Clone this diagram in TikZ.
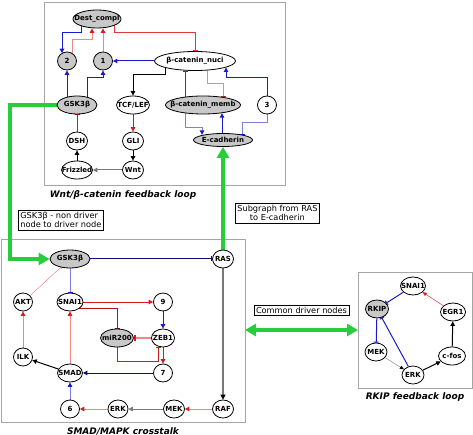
\documentclass[tikz,border=0pt]{standalone}
\usepackage{fontspec}
\setmainfont{DejaVu Sans}
\usepackage{xcolor}
\usetikzlibrary{positioning,shapes.geometric,arrows.meta,backgrounds}

\definecolor{redA}{RGB}{215,25,25}
\definecolor{redL}{RGB}{240,135,135}
\definecolor{bluA}{RGB}{25,25,205}
\definecolor{bluL}{RGB}{125,125,230}
\definecolor{navyA}{RGB}{15,15,120}
\definecolor{greyE}{RGB}{120,120,120}
\definecolor{grnA}{RGB}{40,205,60}
\definecolor{boxgray}{RGB}{165,165,165}
\definecolor{nodegray}{RGB}{200,200,200}

\tikzset{
  nd/.style={ellipse, draw, fill=white, line width=0.8pt, inner xsep=-6pt, inner ysep=0pt,
    minimum height=18pt, minimum width=19pt, font=\bfseries\fontsize{7}{8}\selectfont},
  gnd/.style={nd, fill=nodegray},
  lnk/.style={line width=1pt},
  act/.style={lnk, -{Triangle[length=4.5pt,width=4.5pt]}},
  inh/.style={lnk, -{Bar[width=5pt]}},
  ract/.style={lnk, draw=redL, -{Triangle[length=4.5pt,width=4.5pt,color=redA]}},
  rinh/.style={lnk, draw=redL, -{Bar[width=5pt,color=redA]}},
  bact/.style={lnk, draw=bluL, -{Triangle[length=4.5pt,width=4.5pt,color=bluA]}},
  binh/.style={lnk, draw=bluL, -{Bar[width=5pt,color=bluA]}},
  grn/.style={draw=grnA, line width=4.5pt, -{Triangle[length=11pt,width=12pt]}},
  panel/.style={draw=boxgray, line width=0.8pt},
  loopcap/.style={font=\bfseries\itshape\fontsize{9}{10}\selectfont},
  note/.style={draw, line width=0.7pt, inner sep=2pt, align=left, font=\fontsize{8.2}{9.2}\selectfont}
}

\begin{document}
\begin{tikzpicture}[x=1pt, y=-1pt]
  \useasboundingbox (0,0) rectangle (473,435);

  % Nodes: Wnt/beta-catenin loop
  \node[gnd, minimum width=48pt] (dest) at (97,19) {Dest\_compl};
  \node[gnd] (n2) at (67,61) {2};
  \node[gnd] (n1) at (103,61) {1};
  \node[nd, minimum width=81pt, minimum height=19pt] (bnuc) at (195,61) {β-catenin\_nuci};
  \node[gnd, minimum width=40pt] (gskA) at (77,105) {GSK3β};
  \node[nd, minimum width=33pt] (tcf) at (133,105) {TCF/LEF};
  \node[gnd, minimum width=73pt] (bmem) at (203,105) {β-catenin\_memb};
  \node[nd] (n3) at (267,105) {3};
  \node[nd, minimum width=21pt] (dsh) at (77,141) {DSH};
  \node[nd, minimum width=21pt] (gli) at (133,141) {GLI};
  \node[gnd, minimum width=59pt, minimum height=13pt] (ecad) at (223,140) {E-cadherin};
  \node[nd, minimum width=31pt] (friz) at (77,170) {Frizzled};
  \node[nd, minimum width=21pt] (wnt) at (133,170) {Wnt};

  % Nodes: SMAD/MAPK crosstalk
  \node[gnd, minimum width=40pt] (gskB) at (70,259) {GSK3β};
  \node[nd, minimum width=21pt] (ras) at (223,259) {RAS};
  \node[nd] (akt) at (23,302) {AKT};
  \node[nd, minimum width=26pt] (snai) at (70,302) {SNAI1};
  \node[nd] (n9) at (163,302) {9};
  \node[gnd, minimum width=33pt] (mir) at (117,338) {miR200};
  \node[nd, minimum width=23pt] (zeb) at (163,338) {ZEB1};
  \node[nd] (ilk) at (23,357) {ILK};
  \node[nd, minimum width=25pt] (smad) at (70,373) {SMAD};
  \node[nd] (n7) at (163,373) {7};
  \node[nd] (n6) at (70,409) {6};
  \node[nd, minimum width=20pt] (erkB) at (118,409) {ERK};
  \node[nd, minimum width=21pt] (mekB) at (174,409) {MEK};
  \node[nd, minimum width=21pt] (raf) at (223,409) {RAF};

  % Nodes: RKIP loop
  \node[gnd, minimum width=23pt] (rkip) at (377,309) {RKIP};
  \node[nd, minimum width=25pt] (snaiR) at (413,286) {SNAI1};
  \node[nd, minimum width=25pt] (egr) at (453,312) {EGR1};
  \node[nd, minimum width=22pt] (mekR) at (376,352) {MEK};
  \node[nd, minimum width=22pt] (erkR) at (413,375) {ERK};
  \node[nd, minimum width=27pt] (cfos) at (452,356) {c-fos};

  % Captions and notes
  \node[loopcap] (capW) at (123,195) {Wnt/β-catenin feedback loop};
  \node[loopcap] (capS) at (123,431) {SMAD/MAPK crosstalk};
  \node[loopcap] (capR) at (415,397) {RKIP feedback loop};
  \node[note, anchor=north west] (noteG) at (18,210) {GSK3β - non driver\\node to driver node};
  \node[note, align=center, anchor=north west] (noteS) at (235,203) {Subgraph from RAS\\to E-cadherin};
  \node[note] (noteC) at (301.5,310.5) {Common driver nodes};
  \coordinate (smadE) at (245,330);
  \coordinate (rkipW) at (358,330);

  \begin{pgfonlayer}{background}
  % Panels
  \draw[panel] (44,2) rectangle (285,185);
  \draw[panel] (1,239) rectangle (245,422);
  \draw[panel] (358,272) rectangle (472,388);

  % Arrows: Wnt/beta-catenin loop
  \draw[bluA, act] ([xshift=-16pt]dest.center) |- (62,33) -- ([xshift=-5pt,yshift=-1.5pt]n2.north);
  \draw[ract] ([xshift=5pt]n2.center) |- (92,40) -- ([xshift=-5pt]dest.south);
  \draw[ract] (n1) -- ([xshift=6pt]dest.south);
  \draw[redA!85!white, inh] ([xshift=17pt]dest.center) |- (195,33) -- (bnuc);
  \draw[bluA, act] (bnuc) -- (n1);
  \draw[bluA, act] (n2 |- gskA.center) -- (n2);
  \draw[bluA, act] ([xshift=10pt]gskA.center) |- (103,78) -- (n1);
  \draw[act] ([xshift=-30pt]bnuc.center) |- (133,75) -- (tcf);
  \draw[redA!85!black, inh] ([xshift=-18pt]bmem.center) -- ([xshift=-10pt]bnuc.south);
  \draw[rinh] ([xshift=12pt]bnuc.center) |- (223,84) -- ([xshift=20pt,yshift=-1.4pt]bmem.north);
  \draw[bluA, act] (n3) |- (226,78) -- ([xshift=31pt,yshift=3.4pt]bnuc.south);
  \draw[redA, inh] (dsh) -- (gskA);
  \draw[redA, act] (tcf) -- (gli);
  \draw[act] (gli) -- (wnt);
  \draw[greyE, act] (wnt) -- (friz);
  \draw[act] (friz) -- (dsh);
  \draw[bact] ([xshift=-18pt]bmem.center) |- (202,128) -- ([xshift=-21pt,yshift=-1.7pt]ecad.north);
  \draw[bluA, act] ([xshift=-1pt]ecad.north) -- ([xshift=19pt,yshift=1.2pt]bmem.south);
  \draw[binh] (n3) |- (242,123) -- ([xshift=19pt,yshift=-1.8pt]ecad.north);

  % Arrows: SMAD/MAPK crosstalk
  \draw[navyA, inh] (gskB) -- (ras);
  \draw[binh] (gskB) -- (snai);
  \draw[redL, line width=0.5pt, -{Bar[width=4pt]}] (akt) -- (gskB);
  \draw[redA, act] (snai) -- (n9);
  \draw[redA!80!black, inh] ([yshift=-6pt]snai.center) -| (mir);
  \draw[bluA, act] (n9) -- (zeb);
  \draw[redL, line width=1.8pt, -{Bar[width=6pt,color=redA]}] (zeb) -- (mir);
  \draw[redA, inh] (mir) |- (158,361) -- ([xshift=-5pt]zeb.south);
  \draw[redA, act] (zeb) -- (n7);
  \draw[navyA, act] (n7) -- (smad);
  \draw[ract] (smad) -- (snai);
  \draw[act] (smad) -- (ilk);
  \draw[ract] (ilk) -- (akt);
  \draw[bact] (n6) -- (smad);
  \draw[ract] (erkB) -- (n6);
  \draw[greyE, act] (mekB) -- (erkB);
  \draw[ract] (raf) -- (mekB);
  \draw[greyE, line width=1.2pt, -{Triangle[length=5pt,width=5pt,color=black]}] (ras) -- (raf);

  % Arrows: RKIP loop
  \draw[bluA, inh] (snaiR) -- (rkip);
  \draw[redA, line width=0.4pt, -{Triangle[length=4pt,width=3.5pt]}] (egr) -- (snaiR);
  \draw[bluA, inh] (rkip) -- (mekR);
  \draw[bluA, inh] (erkR) -- (rkip);
  \draw[greyE, line width=0.4pt, -{Triangle[length=4pt,width=3.5pt,color=black]}] (mekR) -- (erkR);
  \draw[act] (erkR) -- (cfos);
  \draw[act] (cfos) -- (egr);

  % Green links
  \draw[grn] (gskA) -| (10,259) -- (gskB);
  \draw[grn] (ras) -- (ecad);
  \draw[grn, {Triangle[length=11pt,width=12pt]}-{Triangle[length=11pt,width=12pt]}] (smadE) -- (rkipW);
  \end{pgfonlayer}
\end{tikzpicture}
\end{document}
